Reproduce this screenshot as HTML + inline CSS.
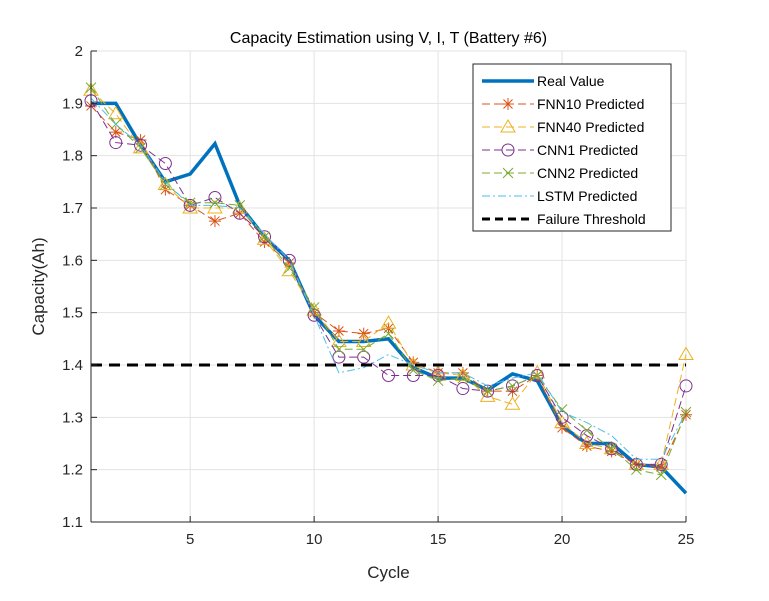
<!DOCTYPE html>
<html><head><meta charset="utf-8"><style>
body{margin:0;background:#fff;font-family:"Liberation Sans",Arial,sans-serif}
svg text{font-family:"Liberation Sans",Arial,sans-serif}
</style></head><body>
<svg id="chart" width="769" height="596" viewBox="0 0 769 596" xmlns="http://www.w3.org/2000/svg">
<rect width="769" height="596" fill="#fff"/>
<g id="grid"></g><g id="series"></g><g id="axes"></g><g id="legend"></g>
</svg>
<script>
const cycles=[1,2,3,4,5,6,7,8,9,10,11,12,13,14,15,16,17,18,19,20,21,22,23,24,25];
const realValue=[1.9,1.9,1.82,1.75,1.765,1.823,1.705,1.645,1.6,1.495,1.445,1.445,1.45,1.395,1.375,1.375,1.352,1.383,1.37,1.283,1.25,1.25,1.21,1.205,1.155];
const fnn10=[1.895,1.845,1.83,1.735,1.705,1.675,1.69,1.635,1.595,1.5,1.465,1.46,1.47,1.405,1.385,1.385,1.35,1.35,1.38,1.28,1.245,1.235,1.21,1.205,1.305];
const fnn40=[1.925,1.88,1.815,1.745,1.7,1.7,1.7,1.64,1.58,1.505,1.445,1.445,1.48,1.4,1.385,1.38,1.34,1.325,1.385,1.29,1.25,1.24,1.21,1.21,1.42];
const cnn1=[1.905,1.825,1.82,1.785,1.705,1.72,1.69,1.645,1.6,1.495,1.415,1.415,1.38,1.38,1.38,1.355,1.35,1.36,1.38,1.3,1.265,1.24,1.21,1.21,1.36];
const cnn2=[1.93,1.86,1.815,1.745,1.71,1.71,1.705,1.645,1.585,1.51,1.43,1.43,1.46,1.39,1.37,1.375,1.35,1.36,1.38,1.315,1.275,1.24,1.2,1.19,1.31];
const lstm=[1.91,1.86,1.82,1.75,1.705,1.705,1.7,1.65,1.6,1.495,1.385,1.395,1.42,1.4,1.385,1.385,1.36,1.375,1.385,1.31,1.29,1.265,1.22,1.22,1.31];
const threshold=1.4;
const xTicks=[5,10,15,20,25];
const yTicks=[1.1,1.2,1.3,1.4,1.5,1.6,1.7,1.8,1.9,2];
const L=91,R=686,T=51,B=522,xMin=1,xMax=25,yMin=1.1,yMax=2;
const X=v=>L+(v-xMin)/(xMax-xMin)*(R-L);
const Y=v=>B-(v-yMin)/(yMax-yMin)*(B-T);
const NS="http://www.w3.org/2000/svg";
function mk(tag,attrs,parent){const e=document.createElementNS(NS,tag);for(const k in attrs)e.setAttribute(k,attrs[k]);parent.appendChild(e);return e;}
const grid=document.getElementById('grid'),axes=document.getElementById('axes'),ser=document.getElementById('series'),leg=document.getElementById('legend');
xTicks.forEach(t=>{const l=mk('line',{x1:X(t),x2:X(t),y1:T,y2:B,stroke:'#e3e3e3'},grid);
 const tx=mk('text',{x:X(t),y:B+22,'text-anchor':'middle','font-size':15,fill:'#262626'},axes);tx.textContent=t;
 mk('line',{x1:X(t),x2:X(t),y1:B,y2:B-6,stroke:'#262626'},axes);});
yTicks.forEach(t=>{const l=mk('line',{x1:L,x2:R,y1:Y(t),y2:Y(t),stroke:'#e3e3e3'},grid);
 const tx=mk('text',{x:L-8,y:Y(t)+5,'text-anchor':'end','font-size':15,fill:'#262626'},axes);tx.textContent=String(t);
 mk('line',{x1:L,x2:L+6,y1:Y(t),y2:Y(t),stroke:'#262626'},axes);});
const ya=mk('line',{x1:L,x2:L,y1:T,y2:B,stroke:'#262626'},axes);
const xa=mk('line',{x1:L,x2:R,y1:B,y2:B,stroke:'#262626'},axes);
let t=mk('text',{x:(L+R)/2,y:43,'text-anchor':'middle','font-size':16,fill:'#000'},axes);t.textContent='Capacity Estimation using V, I, T (Battery #6)';
t=mk('text',{x:(L+R)/2,y:578,'text-anchor':'middle','font-size':17,fill:'#262626'},axes);t.textContent='Cycle';
t=mk('text',{x:44,y:(T+B)/2,'text-anchor':'middle','font-size':17,fill:'#262626',transform:`rotate(-90 44 ${(T+B)/2})`},axes);t.textContent='Capacity(Ah)';
function marker(g,type,x,y,c){const s=6;
 if(type==='star'){mk('path',{d:`M${x-s} ${y}H${x+s}M${x} ${y-s}V${y+s}M${x-4.5} ${y-4.5}L${x+4.5} ${y+4.5}M${x-4.5} ${y+4.5}L${x+4.5} ${y-4.5}`,stroke:c,fill:'none'},g);}
 else if(type==='tri'){mk('path',{d:`M${x} ${y-7}L${x+7} ${y+5}L${x-7} ${y+5}Z`,stroke:c,fill:'none'},g);}
 else if(type==='circ'){mk('circle',{cx:x,cy:y,r:6,stroke:c,fill:'none'},g);}
 else if(type==='x'){mk('path',{d:`M${x-5} ${y-5}L${x+5} ${y+5}M${x-5} ${y+5}L${x+5} ${y-5}`,stroke:c,fill:'none'},g);}}
const defs=[
 {name:'FNN10 Predicted',data:fnn10,c:'#D95319',dash:'8 4',m:'star',id:'fnn10-series'},
 {name:'FNN40 Predicted',data:fnn40,c:'#EDB120',dash:'8 4',m:'tri',id:'fnn40-series'},
 {name:'CNN1 Predicted',data:cnn1,c:'#7E2F8E',dash:'8 4',m:'circ',id:'cnn1-series'},
 {name:'CNN2 Predicted',data:cnn2,c:'#77AC30',dash:'8 4',m:'x',id:'cnn2-series'},
 {name:'LSTM Predicted',data:lstm,c:'#4DBEEE',dash:'8 3 2 3',m:null,id:'lstm-series'}];
const real=mk('polyline',{points:cycles.map((c,i)=>X(c)+','+Y(realValue[i])).join(' '),fill:'none',stroke:'#0072BD','stroke-width':3.5},ser);

defs.forEach(d=>{const g=mk('g',{},ser);
 mk('polyline',{points:cycles.map((c,i)=>X(c)+','+Y(d.data[i])).join(' '),fill:'none',stroke:d.c,'stroke-width':1,'stroke-dasharray':d.dash},g);
 if(d.m)cycles.forEach((c,i)=>marker(g,d.m,X(c),Y(d.data[i]),d.c));});
const th=mk('line',{x1:L,x2:R,y1:Y(threshold),y2:Y(threshold),stroke:'#000','stroke-width':3,'stroke-dasharray':'11 7'},ser);

const lb=mk('rect',{x:473,y:64,width:198,height:167,fill:'#fff',stroke:'#262626'},leg);
const entries=[{name:'Real Value',c:'#0072BD',w:3.5,dash:null,m:null}].concat(defs.map(d=>({name:d.name,c:d.c,w:1,dash:d.dash,m:d.m}))).concat([{name:'Failure Threshold',c:'#000',w:3,dash:'8 5',m:null}]);
entries.forEach((e,i)=>{const y=81+i*23;const g=mk('g',{},leg);
 const a={x1:482,x2:534,y1:y,y2:y,stroke:e.c,'stroke-width':e.w};if(e.dash)a['stroke-dasharray']=e.dash;mk('line',a,g);
 if(e.m)marker(g,e.m,508,y,e.c);
 const tx=mk('text',{x:537,y:y+5,'font-size':14,fill:'#000'},g);tx.textContent=e.name;});
</script>
</body></html>
